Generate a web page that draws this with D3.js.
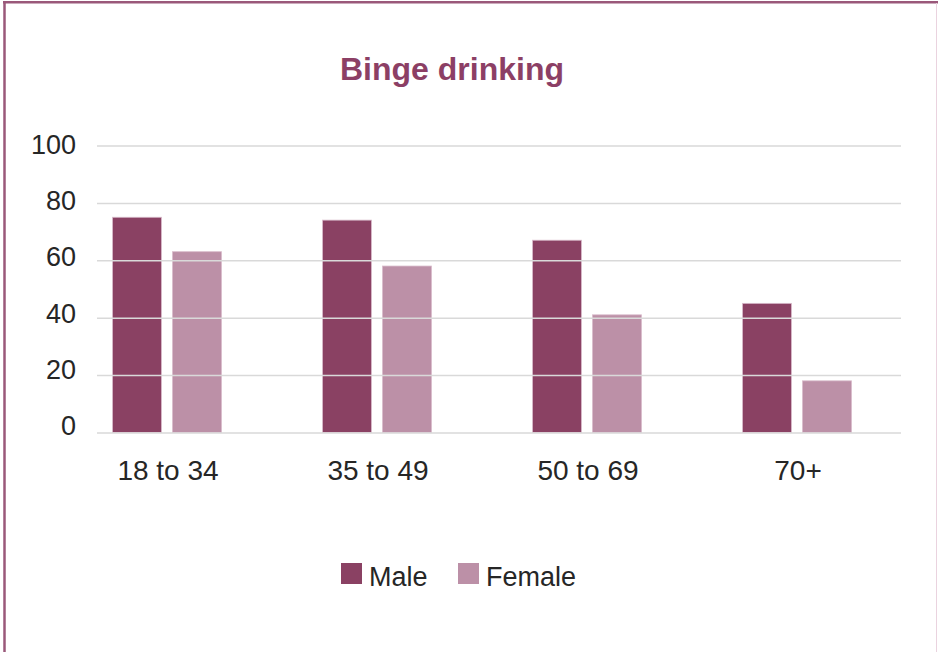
<!DOCTYPE html>
<html>
<head>
<meta charset="utf-8">
<script src="https://cdn.jsdelivr.net/npm/d3@7"></script>
<style>
  html, body { margin: 0; padding: 0; background: #fff; }
  svg text { font-family: "Liberation Sans", Arial, sans-serif; }
</style>
</head>
<body>
<svg id="chart" width="938" height="652"></svg>
<script>
// chart data
var ageGroups = ['18 to 34', '35 to 49', '50 to 69', '70+'];
var seriesNames = ['Male', 'Female'];
var maleValues = [75, 74, 67, 45];
var femaleValues = [63, 58, 41, 18];
var yTicks = [0, 20, 40, 60, 80, 100];

var colors = { Male: '#8a4163', Female: '#bc90a7' };

var svg = d3.select('#chart');

// frame round the chart
svg.append('line').attr('x1', 4.5).attr('x2', 4.5).attr('y1', 1).attr('y2', 652)
  .attr('stroke', '#9a587a').attr('stroke-width', 2.5);
svg.append('line').attr('x1', 3).attr('x2', 938).attr('y1', 2.2).attr('y2', 2.2)
  .attr('stroke', '#9a587a').attr('stroke-width', 2.5);
svg.append('line').attr('x1', 936.5).attr('x2', 936.5).attr('y1', 3).attr('y2', 652)
  .attr('stroke', '#ead3df').attr('stroke-width', 1);

// title
svg.append('text')
  .attr('x', 452)
  .attr('y', 80)
  .attr('text-anchor', 'middle')
  .attr('font-size', 32)
  .attr('font-weight', 'bold')
  .attr('fill', '#8c3f65')
  .text('Binge drinking');

// scales
var x0 = d3.scaleBand().domain(ageGroups).range([62, 902]).padding(0);
var x1 = d3.scaleBand().domain(seriesNames).range([0, 109]).paddingInner(11 / 60).paddingOuter(0);
var y = d3.scaleLinear().domain([0, 100]).range([432.5, 145.5]);
// tick labels sit a little tighter than the gridlines
var yLabel = d3.scaleLinear().domain([0, 100]).range([425, 144]);

var rows = ageGroups.map(function(g, i) {
  return { group: g, values: [
    { key: 'Male', value: maleValues[i] },
    { key: 'Female', value: femaleValues[i] }
  ] };
});

// bars
var groups = svg.append('g').selectAll('g')
  .data(rows)
  .join('g')
  .attr('transform', function(d) {
    return 'translate(' + (x0(d.group) + (x0.bandwidth() - 109) / 2) + ',0)';
  });

groups.selectAll('rect')
  .data(function(d) { return d.values; })
  .join('rect')
  .attr('x', function(d) { return x1(d.key); })
  .attr('width', x1.bandwidth())
  .attr('y', function(d) { return y(d.value); })
  .attr('height', function(d) { return y(0) - y(d.value); })
  .attr('fill', function(d) { return colors[d.key]; })
  .attr('stroke', '#d9bccb')
  .attr('stroke-width', 0.8);

// gridlines drawn over the bars
var yAxis = d3.axisLeft(y)
  .tickValues(yTicks)
  .tickSize(-(901 - 97))
  .tickPadding(21)
  .tickFormat(d3.format('d'));

var gy = svg.append('g')
  .attr('transform', 'translate(97,0)')
  .call(yAxis);
gy.select('.domain').remove();
gy.selectAll('.tick line')
  .attr('stroke', '#d9d9d9')
  .attr('stroke-width', 1.5);
gy.selectAll('.tick text')
  .attr('font-size', 27)
  .attr('fill', '#262626')
  .attr('dy', '0.35em')
  .attr('y', function(d) { return yLabel(d) - y(d); });

// category labels
var xAxis = d3.axisBottom(x0).tickSize(0).tickPadding(0);
var gx = svg.append('g')
  .attr('transform', 'translate(1,0)')
  .call(xAxis);
gx.select('.domain').remove();
gx.selectAll('.tick text')
  .attr('y', 480)
  .attr('dy', 0)
  .attr('font-size', 28)
  .attr('fill', '#262626');

// legend
var legendX = [341, 458];
var legend = svg.append('g').selectAll('g')
  .data(seriesNames)
  .join('g')
  .attr('transform', function(d, i) { return 'translate(' + legendX[i] + ',563)'; });
legend.append('rect')
  .attr('width', 21)
  .attr('height', 21)
  .attr('fill', function(d) { return colors[d]; });
legend.append('text')
  .attr('x', 28)
  .attr('y', 22.5)
  .attr('font-size', 27)
  .attr('fill', '#262626')
  .text(function(d) { return d; });
</script>
</body>
</html>
